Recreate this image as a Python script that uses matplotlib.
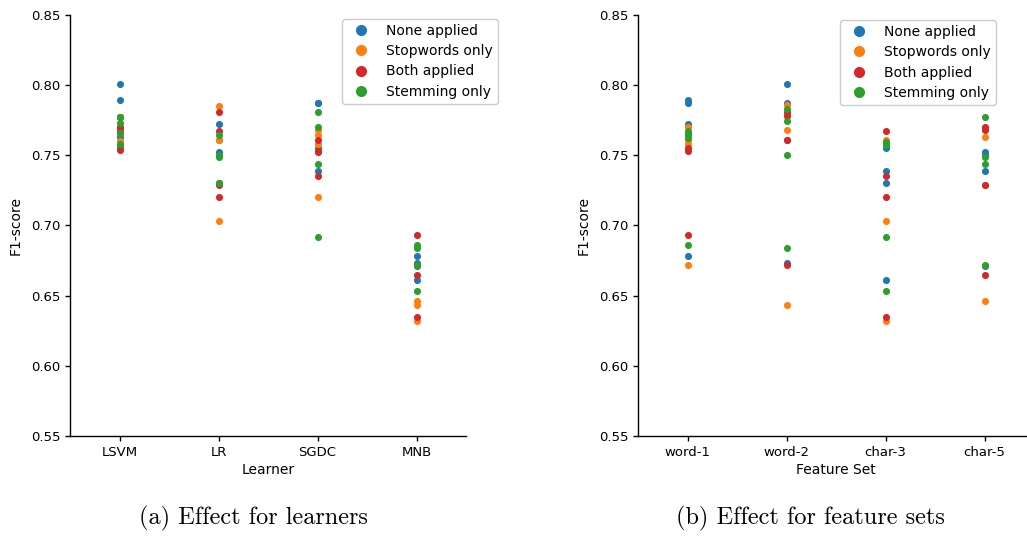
import matplotlib
matplotlib.use("Agg")
import matplotlib.pyplot as plt
from matplotlib.lines import Line2D

# Категории по осям X
learners = ["LSVM", "LR", "SGDC", "MNB"]
feature_sets = ["word-1", "word-2", "char-3", "char-5"]

# Варианты предобработки и их цвета
prep_labels = ["None applied", "Stopwords only", "Both applied", "Stemming only"]
prep_colors = ["#1f77b4", "#ff7f0e", "#d62728", "#2ca02c"]

# F1 по обучающим алгоритмам: по 4 значения на каждый алгоритм
learner_none = [[0.801, 0.789, 0.763, 0.756], [0.772, 0.761, 0.752, 0.730],
                [0.787, 0.787, 0.755, 0.739], [0.678, 0.673, 0.661, 0.671]]
learner_stop = [[0.777, 0.769, 0.766, 0.760], [0.785, 0.761, 0.730, 0.703],
                [0.768, 0.764, 0.758, 0.720], [0.672, 0.646, 0.643, 0.632]]
learner_both = [[0.777, 0.770, 0.767, 0.754], [0.781, 0.767, 0.729, 0.720],
                [0.761, 0.753, 0.752, 0.735], [0.693, 0.672, 0.665, 0.635]]
learner_stem = [[0.777, 0.773, 0.766, 0.758], [0.764, 0.750, 0.749, 0.730],
                [0.781, 0.770, 0.744, 0.692], [0.686, 0.684, 0.672, 0.653]]

# F1 по наборам признаков
feature_none = [[0.789, 0.787, 0.772, 0.678], [0.801, 0.787, 0.761, 0.673],
                [0.755, 0.739, 0.730, 0.661], [0.752, 0.750, 0.739, 0.671]]
feature_stop = [[0.770, 0.761, 0.758, 0.672], [0.786, 0.779, 0.768, 0.643],
                [0.761, 0.760, 0.703, 0.632], [0.769, 0.763, 0.729, 0.646]]
feature_both = [[0.766, 0.755, 0.753, 0.693], [0.781, 0.778, 0.761, 0.672],
                [0.767, 0.735, 0.720, 0.635], [0.770, 0.768, 0.729, 0.665]]
feature_stem = [[0.767, 0.764, 0.762, 0.686], [0.783, 0.774, 0.750, 0.684],
                [0.759, 0.757, 0.692, 0.653], [0.777, 0.749, 0.744, 0.672]]


def strip_panel(ax, categories, groups, xlabel):
    # точки без разброса по X, по одной колонке на категорию
    for values, color in zip(groups, prep_colors):
        for i, col in enumerate(values):
            ax.scatter([i] * len(col), col, s=26, color=color, linewidths=0, zorder=3)
    ax.set_xticks(range(len(categories)))
    ax.set_xticklabels(categories)
    ax.set_xlim(-0.5, len(categories) - 0.5)
    ax.set_ylim(0.55, 0.85)
    ax.set_yticks([0.55, 0.60, 0.65, 0.70, 0.75, 0.80, 0.85])
    ax.set_xlabel(xlabel, fontsize=10, labelpad=3)
    ax.set_ylabel("F1-score", fontsize=10, labelpad=6)
    ax.tick_params(labelsize=9.5, length=3.5, width=1.0)
    for side in ("top", "right"):
        ax.spines[side].set_visible(False)
    for side in ("left", "bottom"):
        ax.spines[side].set_linewidth(1.0)


def add_legend(fig, x, y):
    handles = [Line2D([], [], marker="o", linestyle="none", markersize=8,
                      color=c, markeredgewidth=0) for c in prep_colors]
    fig.legend(handles, prep_labels, loc="upper left", bbox_to_anchor=(x, y),
               bbox_transform=fig.transFigure, borderaxespad=0, fontsize=10,
               handletextpad=0.8, labelspacing=0.45, borderpad=0.36,
               edgecolor="#cccccc", framealpha=1.0)


fig = plt.figure(figsize=(10.27, 5.36), dpi=100)
ax1 = fig.add_axes([70 / 1027, 100 / 536, 396 / 1027, 421.3 / 536])
ax2 = fig.add_axes([638 / 1027, 100 / 536, 396 / 1027, 421.3 / 536])

strip_panel(ax1, learners, [learner_none, learner_stop, learner_both, learner_stem], "Learner")
strip_panel(ax2, feature_sets, [feature_none, feature_stop, feature_both, feature_stem], "Feature Set")

add_legend(fig, 342 / 1027, 1 - 19 / 536)
add_legend(fig, 840 / 1027, 1 - 20 / 536)

# Подписи подрисунков
fig.text(253 / 1027, 1 - 518 / 536, "(a) Effect for learners", ha="center", va="center",
         fontsize=17.5, fontfamily="cmr10")
fig.text(810 / 1027, 1 - 518 / 536, "(b) Effect for feature sets", ha="center", va="center",
         fontsize=17.5, fontfamily="cmr10")

fig.savefig("out.png", dpi=100)
